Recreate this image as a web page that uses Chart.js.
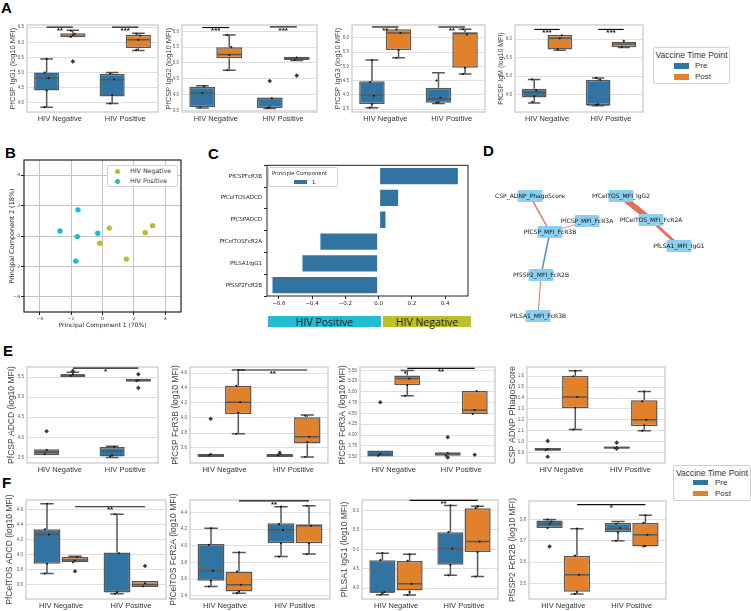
<!DOCTYPE html>
<html>
<head>
<meta charset="utf-8">
<script src="https://cdn.jsdelivr.net/npm/chart.js@4.4.1/dist/chart.umd.min.js"></script>
<style>
  body { margin: 0; width: 751px; height: 611px; background: #fff; position: relative; overflow: hidden;
         font-family: "Liberation Sans", Arial, sans-serif; }
  canvas { position: absolute; }
  .abs { position: absolute; white-space: nowrap; }
  .letter { font-weight: bold; font-size: 15px; line-height: 15px; color: #000; }
  .leg { border: 1px solid #d0d0d0; border-radius: 2px; background: #fff; box-sizing: border-box; }
</style>
</head>
<body>

<div class="abs letter" style="left:1px;top:0px">A</div>
<div class="abs letter" style="left:5px;top:145px">B</div>
<div class="abs letter" style="left:208px;top:146px">C</div>
<div class="abs letter" style="left:483px;top:143px">D</div>
<div class="abs letter" style="left:3px;top:343px">E</div>
<div class="abs letter" style="left:2px;top:475px">F</div>

<script>
/* ========= SHARED ========= */
const groups = ["HIV Negative", "HIV Positive"];
const hues = ["Pre", "Post"];
const PRE = "#3274a1";
const POST = "#e1812c";
const EDGE = "#575757";

/* ========= BOX DATA: [min, q1, median, q3, max] per group ========= */
// A
const a1Pre  = [[3.86, 4.41, 4.82, 5.00, 5.45], [3.98, 4.21, 4.76, 4.96, 5.00]];
const a1Post = [[6.17, 6.17, 6.20, 6.30, 6.40], [5.73, 5.81, 6.08, 6.25, 6.30]];
const a1Out  = [[[], []], [[5.37], []]];
const a1Pts  = [[[3.86, 4.41, 4.82, 5.0, 5.45], [3.98, 4.25, 4.78, 4.97]], [[6.18, 6.24, 6.28, 6.38], [5.75, 6.08, 6.22, 6.28]]];
const a1Sig  = [[0, 0, 0, 1, 6.5, "**"], [1, 0, 1, 1, 6.5, "***"]];

const a2Pre  = [[3.58, 3.60, 4.05, 4.25, 4.28], [3.56, 3.58, 3.88, 3.90, 3.90]];
const a2Post = [[4.77, 5.15, 5.27, 5.50, 5.88], [5.08, 5.10, 5.12, 5.20, 5.20]];
const a2Out  = [[[], [4.43]], [[], [4.6]]];
const a2Pts  = [[[3.6, 4.05, 4.27], [3.58, 3.6, 3.88]], [[4.77, 5.25, 5.5, 5.88], [5.1, 5.17]]];
const a2Sig  = [[0, 0, 0, 1, 6.12, "***"], [1, 0, 1, 1, 6.14, "***"]];

const a3Pre  = [[3.55, 3.68, 4.00, 4.48, 5.22], [3.70, 3.72, 3.86, 4.25, 4.78]];
const a3Post = [[5.30, 5.57, 6.17, 6.30, 6.30], [4.73, 4.95, 6.15, 6.20, 6.30]];
const a3Out  = [[[], []], [[], []]];
const a3Pts  = [[[3.55, 3.68, 3.97, 4.45, 5.22], [3.72, 3.74, 3.9, 4.5]], [[5.3, 5.57, 6.17, 6.3], [4.73, 4.95, 6.12, 6.3]]];
const a3Sig  = [[0, 0, 0, 1, 6.38, "**"], [1, 0, 1, 1, 6.38, "**"]];

const a4Pre  = [[4.27, 4.42, 4.57, 4.66, 4.91], [4.20, 4.22, 4.22, 4.90, 4.95]];
const a4Post = [[5.70, 5.72, 6.02, 6.12, 6.12], [5.77, 5.78, 5.87, 5.93, 5.93]];
const a4Out  = [[[], []], [[], []]];
const a4Pts  = [[[4.3, 4.45, 4.62, 4.91], [4.22, 4.24, 4.9, 4.95]], [[5.72, 6.02, 6.1], [5.79, 5.95]]];
const a4Sig  = [[0, 0, 0, 1, 6.26, "***"], [1, 0, 1, 1, 6.26, "***"]];

// E
const e1Pre  = [[3.55, 3.55, 3.63, 3.70, 3.70], [3.50, 3.52, 3.65, 3.76, 3.78]];
const e1Post = [[5.50, 5.50, 5.55, 5.57, 5.62], [5.38, 5.38, 5.42, 5.46, 5.46]];
const e1Out  = [[[4.15], []], [[5.65], [5.57, 5.23]]];
const e1Pts  = [[[3.58, 3.68], [3.52, 3.55, 3.76]], [[5.53, 5.57], [5.4, 5.42]]];
const e1Sig  = [[0, 1, 1, 1, 5.72, "*"]];

const e2Pre  = [[3.48, 3.48, 3.50, 3.52, 3.52], [3.48, 3.48, 3.50, 3.52, 3.52]];
const e2Post = [[3.79, 4.05, 4.21, 4.43, 4.64], [3.48, 3.66, 3.75, 4.01, 4.04]];
const e2Out  = [[[3.99], [3.53]], [[], []]];
const e2Pts  = [[[3.5, 3.52], [3.5, 3.55]], [[3.79, 4.07, 4.21, 4.43, 4.64], [3.48, 3.68, 3.75, 4.03]]];
const e2Sig  = [[0, 1, 1, 1, 4.64, "**"]];

const e3Pre  = [[3.50, 3.50, 3.56, 3.64, 3.64], [3.52, 3.52, 3.56, 3.60, 3.60]];
const e3Post = [[4.91, 5.16, 5.31, 5.38, 5.50], [4.49, 4.49, 4.58, 5.02, 5.02]];
const e3Out  = [[[4.76], [3.95, 3.48]], [[], [3.54]]];
const e3Pts  = [[[3.52, 3.56], [3.52, 3.58]], [[4.91, 5.16, 5.31, 5.45], [4.49, 4.58, 5.02]]];
const e3Sig  = [[0, 1, 1, 1, 5.55, "**"]];

const e4Pre  = [[0.915, 0.915, 0.925, 0.94, 0.94], [0.935, 0.935, 0.945, 0.955, 0.955]];
const e4Post = [[1.11, 1.306, 1.41, 1.605, 1.65], [1.10, 1.14, 1.20, 1.38, 1.46]];
const e4Out  = [[[1.006, 0.86], [0.99, 0.935]], [[], []]];
const e4Pts  = [[[0.92, 0.93], [0.94, 0.95]], [[1.11, 1.31, 1.41, 1.6, 1.65], [1.1, 1.15, 1.2, 1.37, 1.46]]];
const e4Sig  = [];

// F
const f1Pre  = [[3.75, 3.88, 4.27, 4.34, 4.68], [3.48, 3.50, 3.51, 4.03, 4.54]];
const f1Post = [[3.90, 3.90, 3.93, 3.97, 3.98], [3.57, 3.57, 3.60, 3.65, 3.65]];
const f1Out  = [[[], []], [[3.78], [3.85]]];
const f1Pts  = [[[3.75, 3.88, 4.27, 4.34, 4.68], [3.48, 3.5, 4.02, 4.54]], [[3.9, 3.92, 3.97], [3.58, 3.62]]];
const f1Sig  = [[0, 1, 1, 1, 4.64, "**"]];

const f2Pre  = [[3.51, 3.58, 3.70, 4.02, 4.21], [3.87, 4.03, 4.19, 4.27, 4.47]];
const f2Post = [[3.43, 3.45, 3.53, 3.69, 3.92], [3.90, 4.03, 4.24, 4.26, 4.48]];
const f2Out  = [[[], []], [[], []]];
const f2Pts  = [[[3.51, 3.58, 3.7, 4.01, 4.21], [3.87, 4.03, 4.19, 4.26, 4.47]], [[3.43, 3.45, 3.53, 3.69, 3.92], [3.9, 4.03, 4.24, 4.48]]];
const f2Sig  = [[0, 1, 1, 1, 4.54, "**"]];

const f3Pre  = [[3.83, 3.88, 3.90, 4.72, 4.90], [4.33, 4.60, 5.02, 5.44, 6.13]];
const f3Post = [[3.82, 3.94, 4.11, 4.70, 4.87], [4.30, 4.93, 5.20, 6.06, 6.11]];
const f3Out  = [[[], []], [[], []]];
const f3Pts  = [[[3.83, 3.87, 3.9, 4.72, 4.9], [4.33, 4.6, 5.02, 5.44, 6.13]], [[3.82, 3.9, 4.11, 4.7, 4.87], [4.3, 4.93, 5.2, 6.06, 6.11]]];
const f3Sig  = [[0, 1, 1, 1, 6.26, "**"]];

const f4Pre  = [[3.760, 3.760, 3.779, 3.795, 3.800], [3.700, 3.740, 3.757, 3.784, 3.790]];
const f4Post = [[3.450, 3.460, 3.540, 3.630, 3.757], [3.673, 3.673, 3.728, 3.784, 3.820]];
const f4Out  = [[[3.673], []], [[], []]];
const f4Pts  = [[[3.76, 3.78, 3.79, 3.8], [3.7, 3.74, 3.76, 3.78]], [[3.45, 3.46, 3.54, 3.63, 3.757], [3.673, 3.675, 3.728, 3.784, 3.82]]];
const f4Sig  = [[0, 1, 1, 1, 3.87, "*"]];

/* ========= PCA (B) ========= */
const pcaNegX = [0.43, -0.17, 1.52, 2.72, 3.19];
const pcaNegY = [0.52, -0.48, -1.52, 0.22, 0.68];
const pcaPosX = [-2.71, -1.56, -1.60, -1.70, -0.30];
const pcaPosY = [0.33, 1.72, -0.04, -1.65, 0.18];
const pcaTicks = [-4, -2, 0, 2, 4];

/* ========= LOADINGS (C) ========= */
const loadNames = ["PfCSPFcR3B", "PfCelTOSADCD", "PfCSPADCD", "PfCelTOSFcR2A", "PfLSA1IgG1", "PfSSP2FcR2B"];
const loadVals = [0.482, 0.123, 0.047, -0.356, -0.464, -0.644];
const loadTicks = [-0.6, -0.4, -0.2, 0, 0.2, 0.4];

/* ========= NETWORK (D) ========= */
const nodeNames = ["CSP_ADNP_PhagoScore", "PfCSP_MFI_FcR3A", "PfCSP_MFI_FcR3B", "PfSSP2_MFI_FcR2B",
                   "PfLSA1_MFI_FcR3B", "PfCelTOS_MFI_IgG2", "PfCelTOS_MFI_FcR2A", "PfLSA1_MFI_IgG1"];
const nodeX = [40, 97, 60, 51, 48, 131, 161, 189];
const nodeY = [16, 41, 52, 95, 136, 16, 40, 66];
const edgeFrom = [0, 1, 2, 3, 5, 6];
const edgeTo   = [2, 2, 3, 4, 6, 7];
const edgeW    = [1.5, 0.7, 1.5, 1.0, 6, 3];
const edgeSign = [1, 1, -1, 1, 1, 1];

/* ========= SETUP ========= */
Chart.defaults.font.family = '"Liberation Sans", Arial, sans-serif';
Chart.defaults.animation = false;
Chart.defaults.plugins.legend.display = false;
Chart.defaults.plugins.tooltip.enabled = false;

function addCanvas(left, top, w, h) {
  const c = document.createElement("canvas");
  left = Math.round(left); top = Math.round(top);
  w = Math.round(w); h = Math.round(h);
  c.width = w; c.height = h;
  c.style.left = left + "px"; c.style.top = top + "px";
  c.style.width = w + "px"; c.style.height = h + "px";
  document.body.appendChild(c);
  return c;
}

const framePlugin = {
  id: "frame",
  beforeDatasetsDraw(chart, args, opts) {
    const a = chart.chartArea, ctx = chart.ctx;
    ctx.save();
    ctx.strokeStyle = opts.color || "#d0d0d0";
    ctx.lineWidth = opts.width || 1.5;
    ctx.strokeRect(a.left, a.top, a.right - a.left, a.bottom - a.top);
    ctx.restore();
  }
};

/* ========= BOX PLOT DRAWING ========= */
const boxPlugin = {
  id: "boxes",
  afterDatasetsDraw(chart, args, opts) {
    const ctx = chart.ctx, y = chart.scales.y;
    const py = v => y.getPixelForValue(v);
    ctx.save();
    chart.data.datasets.forEach((ds, di) => {
      chart.getDatasetMeta(di).data.forEach((el, i) => {
        const [lo, q1, md, q3, hi] = ds.stats[i];
        const x = el.x, hw = el.width / 2;
        ctx.strokeStyle = EDGE;
        ctx.lineWidth = 1.5;
        ctx.beginPath();
        if (hi > q3) {
          ctx.moveTo(x, py(q3)); ctx.lineTo(x, py(hi));
          ctx.moveTo(x - hw / 2, py(hi)); ctx.lineTo(x + hw / 2, py(hi));
        }
        if (lo < q1) {
          ctx.moveTo(x, py(q1)); ctx.lineTo(x, py(lo));
          ctx.moveTo(x - hw / 2, py(lo)); ctx.lineTo(x + hw / 2, py(lo));
        }
        ctx.moveTo(x - hw + 1, py(md)); ctx.lineTo(x + hw - 1, py(md));
        ctx.stroke();

        // strip points
        ctx.fillStyle = "#1a1a1a";
        ds.pts[i].forEach((v, k) => {
          ctx.beginPath();
          ctx.arc(x + ((k % 3) - 1) * 2, py(v), 1.1, 0, Math.PI * 2);
          ctx.fill();
        });
        // outliers
        ctx.fillStyle = "#3a3a3a";
        ds.out[i].forEach(v => {
          const cy = py(v), s = 2.3;
          ctx.beginPath();
          ctx.moveTo(x, cy - s); ctx.lineTo(x + s, cy); ctx.lineTo(x, cy + s); ctx.lineTo(x - s, cy);
          ctx.closePath(); ctx.fill();
        });
      });
    });

    // significance bars
    (opts.sig || []).forEach(([ga, ha, gb, hb, v, t]) => {
      const xa = chart.getDatasetMeta(ha).data[ga].x;
      const xb = chart.getDatasetMeta(hb).data[gb].x;
      const yy = py(v);
      ctx.strokeStyle = "#111";
      ctx.lineWidth = 1.2;
      ctx.beginPath(); ctx.moveTo(xa, yy); ctx.lineTo(xb, yy); ctx.stroke();
      ctx.fillStyle = "#111";
      ctx.font = 'bold 8px "Liberation Sans", Arial, sans-serif';
      ctx.textAlign = "center";
      ctx.textBaseline = "top";
      ctx.fillText(t, (xa + xb) / 2, yy - 0.5);
    });
    ctx.restore();
  }
};

function boxPanel(p) {
  const PT = 6, PR = 2, XH = 16;
  const left = Math.round(p.titleX - p.titleSize * 0.6);
  const YW = p.frame[0] - left;
  const w = p.frame[2] - p.frame[0] + YW + PR;
  const h = p.frame[3] - p.frame[1] + PT + XH;
  const cv = addCanvas(left, p.frame[1] - PT, w, h);
  const mk = (label, stats, color, hi) => ({
    label,
    data: stats.map(s => [s[1], s[3]]),
    stats,
    out: p.out[hi],
    pts: p.pts[hi],
    backgroundColor: color,
    borderColor: EDGE,
    borderWidth: 1.5,
    borderSkipped: false,
    categoryPercentage: 0.8,
    barPercentage: 0.96
  });
  new Chart(cv, {
    type: "bar",
    data: { labels: groups, datasets: [mk(hues[0], p.pre, PRE, 0), mk(hues[1], p.post, POST, 1)] },
    options: {
      responsive: false,
      layout: { padding: { top: PT, right: PR, left: 0, bottom: 0 } },
      scales: {
        x: {
          grid: { display: false, drawTicks: false },
          border: { display: false },
          ticks: { font: { size: 7.5 }, color: "#333", padding: 2.5 },
          afterFit: s => { s.height = XH; }
        },
        y: {
          min: p.yMin, max: p.yMax,
          afterBuildTicks: s => { s.ticks = p.ticks.map(v => ({ value: v })); },
          grid: { color: "#dedede", lineWidth: 1, drawTicks: false },
          border: { display: false },
          ticks: { font: { size: 4.5 }, color: "#555", padding: 3, callback: v => Number(v).toFixed(p.dec) },
          title: { display: true, text: p.title, font: { size: p.titleSize }, color: "#444", padding: 0 },
          afterFit: s => { s.width = YW; }
        }
      },
      plugins: { boxes: { sig: p.sig }, frame: { color: "#d2d2d2", width: 1.5 } }
    },
    plugins: [framePlugin, boxPlugin]
  });
}

/* ========= ROW A ========= */
boxPanel({ frame: [27, 25, 158, 112], titleX: 12, titleSize: 7.5, title: "PfCSP IgG1 (log10 MFI)",
  yMin: 3.70, yMax: 6.57, ticks: [4.0, 4.5, 5.0, 5.5, 6.0, 6.5], dec: 1,
  pre: a1Pre, post: a1Post, out: a1Out, pts: a1Pts, sig: a1Sig });
boxPanel({ frame: [182, 25, 317, 112], titleX: 168, titleSize: 7.5, title: "PfCSP IgG2 (log10 MFI)",
  yMin: 3.45, yMax: 6.2, ticks: [3.5, 4.0, 4.5, 5.0, 5.5, 6.0], dec: 1,
  pre: a2Pre, post: a2Post, out: a2Out, pts: a2Pts, sig: a2Sig });
boxPanel({ frame: [352, 25, 485, 112], titleX: 337, titleSize: 7.5, title: "PfCSP IgG3 (log10 MFI)",
  yMin: 3.4, yMax: 6.45, ticks: [3.5, 4.0, 4.5, 5.0, 5.5, 6.0], dec: 1,
  pre: a3Pre, post: a3Post, out: a3Out, pts: a3Pts, sig: a3Sig });
boxPanel({ frame: [515, 25, 643, 112], titleX: 501, titleSize: 7, title: "PfCSP IgM (log10 MFI)",
  yMin: 4.03, yMax: 6.38, ticks: [4.5, 5.0, 5.5, 6.0], dec: 1,
  pre: a4Pre, post: a4Post, out: a4Out, pts: a4Pts, sig: a4Sig });

/* ========= ROW E ========= */
boxPanel({ frame: [27, 367, 158, 463], titleX: 12, titleSize: 8.5, title: "PfCSP ADCD (log10 MFI)",
  yMin: 3.36, yMax: 5.75, ticks: [3.5, 4.0, 4.5, 5.0, 5.5], dec: 1,
  pre: e1Pre, post: e1Post, out: e1Out, pts: e1Pts, sig: e1Sig });
boxPanel({ frame: [190, 367, 328, 463], titleX: 176, titleSize: 8.5, title: "PfCSP FcR3B (log10 MFI)",
  yMin: 3.4, yMax: 4.68, ticks: [3.6, 3.8, 4.0, 4.2, 4.4, 4.6], dec: 1,
  pre: e2Pre, post: e2Post, out: e2Out, pts: e2Pts, sig: e2Sig });
boxPanel({ frame: [360, 367, 495, 463], titleX: 343, titleSize: 8.5, title: "PfCSP FcR3A (log10 MFI)",
  yMin: 3.35, yMax: 5.58, ticks: [3.5, 3.75, 4.0, 4.25, 4.5, 4.75, 5.0, 5.25, 5.5], dec: 2,
  pre: e3Pre, post: e3Post, out: e3Out, pts: e3Pts, sig: e3Sig });
boxPanel({ frame: [527, 367, 665, 463], titleX: 512, titleSize: 9, title: "CSP ADNP PhagoScore",
  yMin: 0.803, yMax: 1.685, ticks: [0.9, 1.0, 1.1, 1.2, 1.3, 1.4, 1.5, 1.6], dec: 1,
  pre: e4Pre, post: e4Post, out: e4Out, pts: e4Pts, sig: e4Sig });

/* ========= ROW F ========= */
boxPanel({ frame: [26, 500, 166, 599], titleX: 10, titleSize: 8.5, title: "PfCelTOS ADCD (log10 MFI)",
  yMin: 3.41, yMax: 4.73, ticks: [3.6, 3.8, 4.0, 4.2, 4.4, 4.6], dec: 1,
  pre: f1Pre, post: f1Post, out: f1Out, pts: f1Pts, sig: f1Sig });
boxPanel({ frame: [190, 500, 330, 599], titleX: 174, titleSize: 8.5, title: "PfCelTOS FcR2A (log10 MFI)",
  yMin: 3.36, yMax: 4.55, ticks: [3.4, 3.6, 3.8, 4.0, 4.2, 4.4], dec: 1,
  pre: f2Pre, post: f2Post, out: f2Out, pts: f2Pts, sig: f2Sig });
boxPanel({ frame: [362, 500, 498, 599], titleX: 345, titleSize: 8.5, title: "PfLSA1 IgG1 (log10 MFI)",
  yMin: 3.72, yMax: 6.27, ticks: [4.0, 4.5, 5.0, 5.5, 6.0], dec: 1,
  pre: f3Pre, post: f3Post, out: f3Out, pts: f3Pts, sig: f3Sig });
boxPanel({ frame: [529, 501, 666, 599], titleX: 513, titleSize: 8.5, title: "PfSSP2 FcR2B (log10 MFI)",
  yMin: 3.426, yMax: 3.887, ticks: [3.5, 3.6, 3.7, 3.8], dec: 1,
  pre: f4Pre, post: f4Post, out: f4Out, pts: f4Pts, sig: f4Sig });

/* ========= B: PCA SCATTER ========= */
(function () {
  const frame = [24, 160, 182, 312];
  const left = 8, PT = 5, PR = 3, XH = 17;
  const YW = frame[0] - left;
  const cv = addCanvas(left, frame[1] - PT, frame[2] - frame[0] + YW + PR, frame[3] - frame[1] + PT + XH);
  const fmt = v => (v < 0 ? "\u2212" + (-v) : "" + v);
  const tickGrid = { color: "#c4c4c4", lineWidth: 1, tickLength: 3, tickColor: "#222" };
  new Chart(cv, {
    type: "scatter",
    data: { datasets: [
      { label: "HIV Negative", data: pcaNegX.map((x, i) => ({ x, y: pcaNegY[i] })), backgroundColor: "#bcbd22", pointRadius: 2.7, borderWidth: 0 },
      { label: "HIV Positive", data: pcaPosX.map((x, i) => ({ x, y: pcaPosY[i] })), backgroundColor: "#17becf", pointRadius: 2.7, borderWidth: 0 }
    ]},
    options: {
      responsive: false,
      layout: { padding: { top: PT, right: PR, left: 0, bottom: 0 } },
      scales: {
        x: { min: -5, max: 5, afterBuildTicks: s => { s.ticks = pcaTicks.map(v => ({ value: v })); },
             grid: tickGrid, border: { display: false },
             ticks: { font: { size: 4.5, family: "DejaVu Sans" }, color: "#333", padding: 1, callback: fmt },
             title: { display: true, text: "Principal Component 1 (70%)", font: { size: 6, family: "DejaVu Sans" }, color: "#222", padding: 0 },
             afterFit: s => { s.height = XH; } },
        y: { min: -5, max: 5, afterBuildTicks: s => { s.ticks = pcaTicks.map(v => ({ value: v })); },
             grid: tickGrid, border: { display: false },
             ticks: { font: { size: 4.5, family: "DejaVu Sans" }, color: "#333", padding: 1, callback: fmt },
             title: { display: true, text: "Principal Component 2 (18%)", font: { size: 6.5, family: "DejaVu Sans" }, color: "#222", padding: 0 },
             afterFit: s => { s.width = YW; } }
      },
      plugins: { frame: { color: "#222", width: 1.2 } }
    },
    plugins: [framePlugin]
  });
})();

/* ========= C: LOADINGS BAR ========= */
(function () {
  const frame = [267, 165, 468, 296];
  const left = 200, PT = 5, PR = 4, XH = 14;
  const YW = frame[0] - left;
  const cv = addCanvas(left, frame[1] - PT, frame[2] - frame[0] + YW + PR, frame[3] - frame[1] + PT + XH);
  const dv = { family: "DejaVu Sans", size: 5.5 };
  new Chart(cv, {
    type: "bar",
    data: { labels: loadNames, datasets: [{
      label: "1", data: loadVals, backgroundColor: PRE, borderColor: "#fff", borderWidth: 1,
      borderSkipped: false, categoryPercentage: 0.84, barPercentage: 1
    }]},
    options: {
      responsive: false,
      indexAxis: "y",
      layout: { padding: { top: PT, right: PR, left: 0, bottom: 0 } },
      scales: {
        x: { min: -0.671, max: 0.537, afterBuildTicks: s => { s.ticks = loadTicks.map(v => ({ value: v })); },
             grid: { drawOnChartArea: false, tickLength: 3, color: "#222" }, border: { display: false },
             ticks: { font: dv, color: "#222", padding: 1,
                      callback: v => (v < -1e-9 ? "\u2212" : "") + Math.abs(v).toFixed(1) },
             afterFit: s => { s.height = XH; } },
        y: { grid: { drawOnChartArea: false, tickLength: 3, color: "#222" }, border: { display: false },
             ticks: { font: dv, color: "#222", padding: 2 },
             afterFit: s => { s.width = YW; } }
      },
      plugins: { frame: { color: "#222", width: 1 } }
    },
    plugins: [framePlugin]
  });
})();

/* ========= D: NETWORK ========= */
(function () {
  const cv = addCanvas(490, 180, 230, 150);
  const nodePlugin = {
    id: "nodes",
    afterDatasetsDraw(chart) {
      const ctx = chart.ctx;
      const meta = chart.getDatasetMeta(chart.data.datasets.length - 1);
      ctx.save();
      meta.data.forEach(pt => {
        ctx.fillStyle = "#8ccff0";
        ctx.beginPath();
        ctx.roundRect(pt.x - 12.5, pt.y - 6, 25, 12, 1.5);
        ctx.fill();
      });
      ctx.fillStyle = "#111";
      ctx.font = '6px "DejaVu Sans", sans-serif';
      ctx.textAlign = "center";
      ctx.textBaseline = "middle";
      meta.data.forEach((pt, i) => ctx.fillText(nodeNames[i], pt.x, pt.y + 0.5));
      ctx.restore();
    }
  };
  new Chart(cv, {
    type: "scatter",
    data: { datasets: [
      ...edgeFrom.map((f, k) => ({
        type: "line",
        data: [{ x: nodeX[f], y: nodeY[f] }, { x: nodeX[edgeTo[k]], y: nodeY[edgeTo[k]] }],
        borderColor: edgeSign[k] > 0 ? "#e2705c" : "#4b8fd2",
        borderWidth: edgeW[k], pointRadius: 0, fill: false
      })),
      { label: "nodes", data: nodeX.map((x, i) => ({ x, y: nodeY[i] })), pointRadius: 0 }
    ]},
    options: {
      responsive: false,
      layout: { padding: 0 },
      scales: { x: { display: false, min: 0, max: 230 }, y: { display: false, min: 0, max: 150, reverse: true } }
    },
    plugins: [nodePlugin]
  });
})();
</script>

<!-- legends and banners -->
<div class="abs leg" style="left:653px;top:47px;width:77px;height:37px">
  <div class="abs" style="left:0;width:75px;top:2px;text-align:center;font-size:8.5px;color:#333">Vaccine Time Point</div>
  <div class="abs" style="left:20px;top:15px;width:15px;height:6px;background:#3274a1"></div>
  <div class="abs" style="left:41px;top:13px;font-size:8px;color:#333">Pre</div>
  <div class="abs" style="left:20px;top:26px;width:15px;height:6px;background:#e1812c"></div>
  <div class="abs" style="left:41px;top:24px;font-size:8px;color:#333">Post</div>
</div>

<div class="abs leg" style="left:673px;top:465px;width:78px;height:36px">
  <div class="abs" style="left:0;width:76px;top:2px;text-align:center;font-size:8.5px;color:#333">Vaccine Time Point</div>
  <div class="abs" style="left:19px;top:14px;width:15px;height:5px;background:#3274a1"></div>
  <div class="abs" style="left:41px;top:12px;font-size:8px;color:#333">Pre</div>
  <div class="abs" style="left:19px;top:25px;width:15px;height:5px;background:#e1812c"></div>
  <div class="abs" style="left:41px;top:23px;font-size:8px;color:#333">Post</div>
</div>

<div class="abs leg" style="left:107px;top:165px;width:71px;height:22px;font-family:'DejaVu Sans',sans-serif">
  <div class="abs" style="left:7px;top:3px;width:5px;height:5px;border-radius:50%;background:#bcbd22"></div>
  <div class="abs" style="left:22px;top:0px;font-size:6.3px;line-height:10px;color:#333">HIV Negative</div>
  <div class="abs" style="left:7px;top:13px;width:5px;height:5px;border-radius:50%;background:#17becf"></div>
  <div class="abs" style="left:22px;top:10px;font-size:6.3px;line-height:10px;color:#333">HIV Positive</div>
</div>

<div class="abs leg" style="left:268px;top:167px;width:70px;height:20px;font-family:'DejaVu Sans',sans-serif">
  <div class="abs" style="left:3px;top:1px;font-size:5.3px;line-height:8px;color:#222">Principle Component</div>
  <div class="abs" style="left:25px;top:12px;width:13px;height:4px;background:#3274a1"></div>
  <div class="abs" style="left:43px;top:10px;font-size:5.5px;line-height:8px;color:#222">1</div>
</div>

<div class="abs" style="left:268px;top:316px;width:113px;height:11px;background:#22bdd1;text-align:center;font-size:10.5px;line-height:12px;color:#222;font-family:'Open Sans',sans-serif">HIV Positive</div>
<div class="abs" style="left:383px;top:316px;width:88px;height:11px;background:#bfc02c;text-align:center;font-size:10.5px;line-height:12px;color:#222;font-family:'Open Sans',sans-serif">HIV Negative</div>

</body>
</html>
